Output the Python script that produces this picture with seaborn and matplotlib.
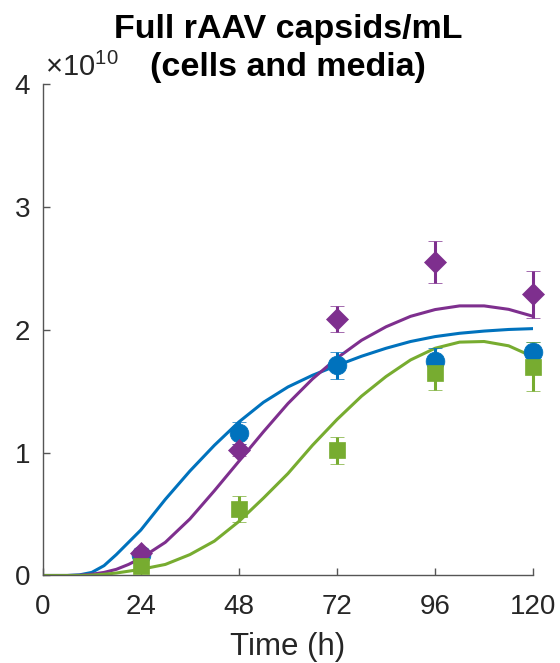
import numpy as np
import pandas as pd
import matplotlib
matplotlib.use("Agg")
import matplotlib.pyplot as plt
import seaborn as sns

# ---------------- data (values in units of 1e10 capsids/mL) ----------------
fit_time = [0, 6, 9, 12, 15, 18, 21, 24, 30, 36, 42, 48, 54, 60, 66, 72,
            78, 84, 90, 96, 102, 108, 114, 120]
blue_fit = [0, 0, 0.005, 0.025, 0.08, 0.17, 0.27, 0.37, 0.62, 0.85, 1.06,
            1.25, 1.41, 1.535, 1.63, 1.71, 1.785, 1.85, 1.905, 1.945, 1.972,
            1.99, 2.003, 2.01]
purple_fit = [0, 0, 0.002, 0.01, 0.025, 0.05, 0.09, 0.14, 0.27, 0.46, 0.69,
              0.93, 1.17, 1.40, 1.60, 1.77, 1.915, 2.025, 2.11, 2.165, 2.195,
              2.195, 2.167, 2.11]
green_fit = [0, 0, 0, 0.003, 0.01, 0.02, 0.035, 0.05, 0.09, 0.17, 0.28,
             0.44, 0.63, 0.83, 1.06, 1.27, 1.46, 1.62, 1.755, 1.85, 1.90,
             1.905, 1.87, 1.78]

sample_time = [24, 48, 72, 96, 120]
blue_mean = [0.167, 1.16, 1.71, 1.75, 1.82]
blue_err = [0.03, 0.09, 0.11, 0.10, 0.08]
purple_mean = [0.18, 1.02, 2.09, 2.55, 2.29]
purple_err = [0.04, 0.05, 0.105, 0.17, 0.19]
green_mean = [0.08, 0.54, 1.02, 1.65, 1.70]
green_err = [0.03, 0.105, 0.11, 0.14, 0.20]

SCALE = 1e10
series = ["blue", "purple", "green"]
colors = {"blue": "#0072BD", "purple": "#7E2F8E", "green": "#77AC30"}

fits = {"blue": blue_fit, "purple": purple_fit, "green": green_fit}
means = {"blue": blue_mean, "purple": purple_mean, "green": green_mean}
errs = {"blue": blue_err, "purple": purple_err, "green": green_err}
markers = {"blue": ("o", 13.5), "purple": ("D", 11.5), "green": ("s", 11.5)}

fit_df = pd.concat([
    pd.DataFrame({"Time": fit_time, "Value": np.array(fits[s]) * SCALE, "Series": s})
    for s in series
], ignore_index=True)

# ---------------- figure ----------------
sns.set_theme(style="ticks")
plt.rcParams["font.family"] = ["Liberation Sans", "DejaVu Sans"]
plt.rcParams["mathtext.fontset"] = "custom"
plt.rcParams["mathtext.rm"] = "Liberation Sans"
plt.rcParams["mathtext.it"] = "Liberation Sans:italic"

fig = plt.figure(figsize=(5.6, 6.63), dpi=100)
ax = fig.add_axes([0.0763, 0.132, 0.8758, 0.7410])

sns.lineplot(data=fit_df, x="Time", y="Value", hue="Series", palette=colors,
             hue_order=series, linewidth=2.2, legend=False, ax=ax, zorder=2)

for s in series:
    m, ms = markers[s]
    cont = ax.errorbar(sample_time, np.array(means[s]) * SCALE,
                       yerr=np.array(errs[s]) * SCALE, fmt=m, color=colors[s],
                       markersize=ms, markeredgewidth=0.5, elinewidth=2.2,
                       capsize=5.0, capthick=2.2, zorder=3)
    for art in cont.get_children():
        art.set_clip_on(False)

ax.set_xlim(0, 120)
ax.set_ylim(0, 4 * SCALE)
ax.set_xticks([0, 24, 48, 72, 96, 120])
ax.set_yticks([0, 1e10, 2e10, 3e10, 4e10])
ax.set_yticklabels(["0", "1", "2", "3", "4"])

sns.despine(ax=ax)
for sp in ["left", "bottom"]:
    ax.spines[sp].set_color("#555555")
    ax.spines[sp].set_linewidth(1.0)
ax.tick_params(axis="both", direction="in", length=5, width=1.0,
               color="#555555", labelsize=20, labelcolor="#262626")
ax.tick_params(axis="x", pad=13)
ax.tick_params(axis="y", pad=9)

ax.set_xlabel("Time (h)", fontsize=22.5, color="#262626", labelpad=9)
ax.set_ylabel("")
ax.set_title("Full rAAV capsids/mL\n(cells and media)", fontsize=24.5,
             fontweight="bold", color="black", pad=6, linespacing=1.3)

ax.text(0.005, 1.005, r"$\times10^{10}$", transform=ax.transAxes,
        fontsize=21, color="#262626", ha="left", va="bottom")

fig.savefig("out.png", dpi=100)
